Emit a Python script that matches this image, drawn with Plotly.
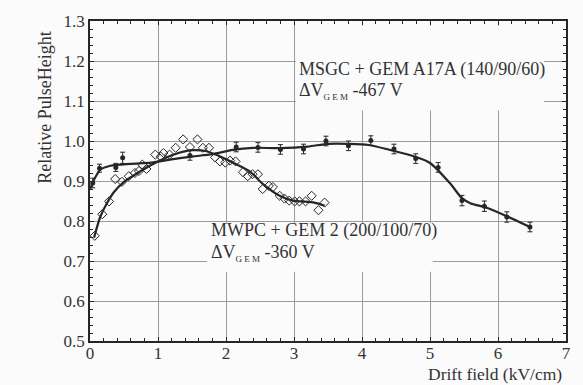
import plotly.graph_objects as go

# MSGC + GEM A17A data (filled points with error bars)
msgc_x = [0.04, 0.14, 0.38, 0.48, 1.47, 2.15, 2.47, 2.80, 3.14, 3.47, 3.80, 4.13, 4.47, 4.79, 5.12, 5.47, 5.80, 6.13, 6.47]
msgc_y = [0.895, 0.932, 0.934, 0.958, 0.964, 0.985, 0.984, 0.979, 0.980, 1.000, 0.988, 1.001, 0.980, 0.956, 0.934, 0.851, 0.837, 0.810, 0.785]
msgc_err = [0.012, 0.010, 0.010, 0.014, 0.012, 0.012, 0.012, 0.012, 0.012, 0.012, 0.012, 0.012, 0.012, 0.012, 0.012, 0.013, 0.013, 0.013, 0.012]

# MSGC fitted curve
msgc_fit_x = [0.0, 0.08, 0.15, 0.3, 0.6, 0.9, 1.2, 1.5, 1.8, 2.1, 2.4, 2.8, 3.2, 3.5, 3.8, 4.1, 4.4, 4.79, 5.0, 5.3, 5.47, 5.6, 5.8, 6.13, 6.47]
msgc_fit_y = [0.88, 0.91, 0.928, 0.938, 0.943, 0.946, 0.954, 0.961, 0.967, 0.978, 0.983, 0.982, 0.986, 0.993, 0.993, 0.99, 0.978, 0.96, 0.945, 0.893, 0.857, 0.844, 0.835, 0.812, 0.785]

# MWPC + GEM 2 data (open diamonds)
mwpc_x = [0.07, 0.18, 0.28, 0.37, 0.47, 0.57, 0.66, 0.72, 0.77, 0.83, 0.96, 1.04, 1.08, 1.17, 1.26, 1.37, 1.47, 1.58, 1.66, 1.75,
          1.84, 1.91, 1.99, 2.06, 2.14, 2.25, 2.32, 2.39, 2.47, 2.54, 2.63, 2.69, 2.79, 2.86, 2.93, 3.01, 3.08, 3.17, 3.26, 3.36, 3.45]
mwpc_y = [0.763, 0.817, 0.849, 0.905, 0.898, 0.912, 0.920, 0.925, 0.941, 0.930, 0.966, 0.961, 0.970, 0.966, 0.983, 1.004, 0.985, 1.004, 0.983, 0.983,
          0.959, 0.949, 0.946, 0.951, 0.949, 0.922, 0.912, 0.917, 0.917, 0.880, 0.888, 0.885, 0.863, 0.856, 0.851, 0.849, 0.849, 0.849, 0.863, 0.827, 0.846]

# MWPC fitted curve
mwpc_fit_x = [0.06, 0.15, 0.25, 0.35, 0.5, 0.7, 0.9, 1.1, 1.3, 1.5, 1.7, 1.85, 2.1, 2.35, 2.54, 2.79, 2.98, 3.1, 3.3, 3.45]
mwpc_fit_y = [0.758, 0.81, 0.845, 0.872, 0.898, 0.92, 0.94, 0.957, 0.97, 0.977, 0.975, 0.966, 0.946, 0.924, 0.893, 0.863, 0.851, 0.849, 0.846, 0.838]

x_ticks = [0, 1, 2, 3, 4, 5, 6, 7]
y_ticks = [0.5, 0.6, 0.7, 0.8, 0.9, 1.0, 1.1, 1.2, 1.3]

SERIF = "Liberation Serif, DejaVu Serif, serif"
INK = "#262626"
TXT = "#333333"
BG = "#fbfbfb"

fig = go.Figure()

fig.add_trace(go.Scatter(x=msgc_fit_x, y=msgc_fit_y, mode="lines",
                         line=dict(color=INK, width=2.2, shape="spline", smoothing=0.8),
                         hoverinfo="skip", showlegend=False))
fig.add_trace(go.Scatter(x=mwpc_fit_x, y=mwpc_fit_y, mode="lines",
                         line=dict(color=INK, width=2.2, shape="spline", smoothing=0.8),
                         hoverinfo="skip", showlegend=False))
fig.add_trace(go.Scatter(x=mwpc_x, y=mwpc_y, mode="markers",
                         marker=dict(symbol="diamond-open", size=7, color=INK, line=dict(width=1)),
                         showlegend=False))
fig.add_trace(go.Scatter(x=msgc_x, y=msgc_y, mode="markers",
                         marker=dict(symbol="circle", size=5, color=INK),
                         error_y=dict(type="data", array=msgc_err, color=INK, thickness=1, width=2.5),
                         showlegend=False))

fig.update_layout(
    width=583, height=385,
    margin=dict(l=90, r=14, t=13, b=44),
    paper_bgcolor=BG, plot_bgcolor=BG,
    font=dict(family=SERIF, size=17, color=TXT),
    xaxis=dict(range=[0, 7], tickvals=x_ticks, ticktext=[str(v) for v in x_ticks],
               showgrid=True, gridcolor="#9a9a9a", gridwidth=1, zeroline=False,
               showline=True, linecolor=INK, linewidth=1.5, mirror="ticks",
               ticks="inside", ticklen=4, tickcolor=INK, ticklabelstandoff=-4,
               minor=dict(dtick=0.2, ticks="inside", ticklen=3, tickcolor=INK, showgrid=False),
               tickfont=dict(family=SERIF, size=17, color=TXT)),
    yaxis=dict(range=[0.5, 1.3], tickvals=y_ticks, ticktext=[f"{v:.1f}" for v in y_ticks],
               showgrid=True, gridcolor="#9a9a9a", gridwidth=1, zeroline=False,
               showline=True, linecolor=INK, linewidth=1.5, mirror="ticks",
               ticks="inside", ticklen=4, tickcolor=INK,
               minor=dict(dtick=0.02, ticks="inside", ticklen=3, tickcolor=INK, showgrid=False),
               tickfont=dict(family=SERIF, size=17, color=TXT)),
)

# label backgrounds that hide the grid behind the series labels (as in the original)
fig.add_shape(type="rect", xref="x", yref="y", x0=3.03, x1=6.68, y0=1.076, y1=1.288,
              fillcolor=BG, line=dict(width=0), layer="between")
fig.add_shape(type="rect", xref="x", yref="y", x0=1.72, x1=5.04, y0=0.673, y1=0.795,
              fillcolor=BG, line=dict(width=0), layer="between")

# axis titles as annotations
fig.add_annotation(text="Relative PulseHeight", xref="paper", yref="paper",
                   x=-0.094, y=0.73, textangle=-90, showarrow=False,
                   font=dict(family=SERIF, size=18, color=TXT), xanchor="center", yanchor="middle")
fig.add_annotation(text="Drift field (kV/cm)", xref="paper", yref="paper",
                   x=0.996, y=-0.102, showarrow=False, xanchor="right", yanchor="middle",
                   font=dict(family=SERIF, size=17.5, color=TXT))

GEM = "<sub><span style='font-size:9px'>G E M</span></sub>"
# series labels
fig.add_annotation(text="MSGC + GEM A17A (140/90/60)", x=3.04, y=1.180, xanchor="left", yanchor="middle",
                   showarrow=False, font=dict(family=SERIF, size=18, color=TXT))
fig.add_annotation(text="ΔV" + GEM + " -467 V", x=3.04, y=1.124,
                   xanchor="left", yanchor="middle", showarrow=False, font=dict(family=SERIF, size=18, color=TXT))
fig.add_annotation(text="MWPC + GEM 2 (200/100/70)", x=1.75, y=0.776, xanchor="left", yanchor="middle",
                   showarrow=False, font=dict(family=SERIF, size=18, color=TXT))
fig.add_annotation(text="ΔV" + GEM + " -360 V", x=1.75, y=0.720,
                   xanchor="left", yanchor="middle", showarrow=False, font=dict(family=SERIF, size=18, color=TXT))

fig.write_html("out.html")
